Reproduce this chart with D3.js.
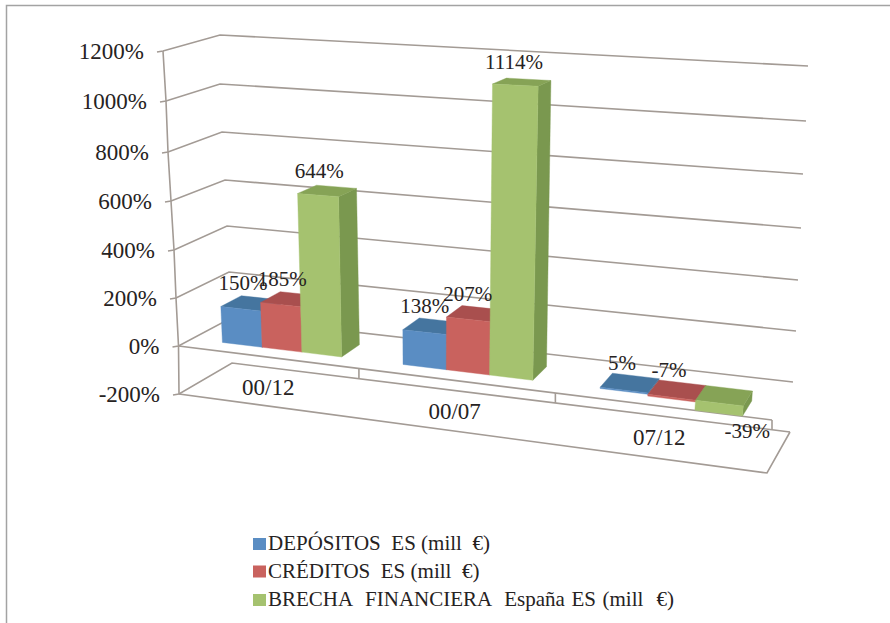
<!DOCTYPE html>
<html>
<head>
<meta charset="utf-8">
<script src="https://cdn.jsdelivr.net/npm/d3@7/dist/d3.min.js"></script>
<style>
  html, body { margin: 0; padding: 0; background: #fff; }
  svg { display: block; }
  text { font-family: "Liberation Serif", serif; fill: #262222; white-space: pre; }
</style>
</head>
<body>
<svg id="chart" width="890" height="623"></svg>
<script>
// Chart values
const categories = ["00/12", "00/07", "07/12"];
const seriesNames = [
  "DEPÓSITOS  ES (mill  €)",
  "CRÉDITOS  ES (mill  €)",
  "BRECHA  FINANCIERA  España ES (mill  €)"
];
const depositos = [150, 138, 5];
const creditos = [185, 207, -7];
const brecha = [644, 1114, -39];
const yTicks = [-200, 0, 200, 400, 600, 800, 1000, 1200];

// Face colours per series: front, top, side
const frontColors = ["#5a8dc3", "#c9625e", "#a5c26f"];
const topColors = ["#45759f", "#a94f4e", "#86a356"];
const sideColors = ["#3f6b94", "#96443f", "#7a984f"];

const svg = d3.select("#chart");

// The four vertical edges of the 3D box, each a value -> pixel scale
const edge = (xs, ys, dom = yTicks) => ({
  x: d3.scaleLinear().domain(dom).range(xs),
  y: d3.scaleLinear().domain(dom).range(ys)
});
const FL = edge([179, 178.5, 176, 174, 171, 168, 166, 163], [394, 346, 298, 250, 201, 152, 101, 51]);
const BL = edge([232, 231, 229, 227, 225, 222, 220, 220], [363, 318, 272, 226, 180, 132, 84, 35]);
const BR = edge([790, 793, 796, 798, 801, 803, 806, 808], [432, 382, 331, 280, 228, 174, 121, 66]);
const FR = edge([767, 772, 794], [473, 420, 78], [-200, 0, 1200]);

// Category position (with foreshortening) -> fraction along the box width
const widthScale = d3.scaleLinear().domain([0, 1, 2, 3]).range([0, 0.304, 0.635, 1]);
// Series position inside one category
const band = d3.scaleBand().domain(d3.range(seriesNames.length)).range([0.17, 0.84]);
const depthFront = 0.26, depthBack = 0.66;

const lerp = (a, b, t) => a + (b - a) * t;

// u: category units, d: depth 0..1, v: value in percent
function project(u, d, v) {
  const t = widthScale(u);
  const fx = lerp(FL.x(v), FR.x(v), t), fy = lerp(FL.y(v), FR.y(v), t);
  const bx = lerp(BL.x(v), BR.x(v), t), by = lerp(BL.y(v), BR.y(v), t);
  return [lerp(fx, bx, d), lerp(fy, by, d)];
}

const line = d3.line();
const gridColor = "#a39b95";

// Outer frame
svg.append("path")
  .attr("d", "M6.5,623V5.5H890")
  .attr("fill", "none").attr("stroke", "#a3a3a3").attr("stroke-width", 1.5);

const grid = svg.append("g")
  .attr("fill", "none").attr("stroke", gridColor).attr("stroke-width", 1.6);

// Wall gridlines with their outward tick
yTicks.forEach(v => {
  const a = [FL.x(v), FL.y(v)];
  grid.append("path").attr("d", line([[a[0] - 6, a[1] + 1], a, [BL.x(v), BL.y(v)], [BR.x(v), BR.y(v)]]));
});

// Vertical axis
grid.append("path").attr("d", line(yTicks.map(v => [FL.x(v), FL.y(v)])));

// Floor outline at the axis minimum
const vMin = yTicks[0];
grid.append("path").attr("d", line([
  [FL.x(vMin), FL.y(vMin)], [FR.x(vMin), FR.y(vMin)], [BR.x(vMin), BR.y(vMin)]
]));

// Front edge of the zero plane and the category separators
grid.append("path").attr("d", line([[FL.x(0), FL.y(0)], [FR.x(0), FR.y(0)]]));
d3.range(1, categories.length + 1).forEach(u => {
  const top = project(u, 0, 0);
  const s = (top[0] - BL.x(vMin)) / (BR.x(vMin) - BL.x(vMin));
  grid.append("path").attr("d", line([top, [top[0], lerp(BL.y(vMin), BR.y(vMin), s)]]));
});

// Bars: one series after another inside each category
const allSeries = [depositos, creditos, brecha];
const bars = svg.append("g");
categories.forEach((cat, c) => {
  allSeries.forEach((values, s) => {
    const v = values[c];
    const u0 = c + band(s), u1 = u0 + band.bandwidth();
    const hi = Math.max(v, 0), lo = Math.min(v, 0);
    const face = (pts, fill) => bars.append("path")
      .attr("d", line(pts) + "Z").attr("fill", fill)
      .attr("stroke", fill).attr("stroke-width", 0.4);
    face([project(u1, depthFront, lo), project(u1, depthBack, lo), project(u1, depthBack, hi), project(u1, depthFront, hi)], sideColors[s]);
    face([project(u0, depthFront, hi), project(u1, depthFront, hi), project(u1, depthBack, hi), project(u0, depthBack, hi)], topColors[s]);
    face([project(u0, depthFront, lo), project(u1, depthFront, lo), project(u1, depthFront, hi), project(u0, depthFront, hi)], frontColors[s]);
  });
});

// Axis labels
svg.append("g").selectAll("text").data(yTicks).join("text")
  .attr("x", v => FL.x(v) - 19)
  .attr("y", v => FL.y(v) + 7.5)
  .attr("text-anchor", "end")
  .attr("font-size", 23)
  .text(v => v + "%");

// Category labels lying on the floor, drifting right with the perspective
const categoryAnchor = i => project(i + 0.36 + 0.035 * i, 0.5, vMin);
svg.append("g").selectAll("text").data(categories).join("text")
  .attr("x", (d, i) => categoryAnchor(i)[0])
  .attr("y", (d, i) => categoryAnchor(i)[1] + 8)
  .attr("text-anchor", "middle")
  .attr("font-size", 23)
  .text(d => d);

// Value labels above each bar top; large negative values hang below the bar
categories.forEach((cat, c) => {
  allSeries.forEach((values, s) => {
    const v = values[c];
    const p = project(c + band(s) + band.bandwidth() / 2, (depthFront + depthBack) / 2, Math.max(v, 0));
    const below = v < -20;
    svg.append("text")
      .attr("x", p[0] + (below ? 23 : -8))
      .attr("y", p[1] + (below ? 42 : -13))
      .attr("text-anchor", "middle")
      .attr("font-size", 21)
      .text(v + "%");
  });
});

// Legend; the long entry runs slightly wider between its words
const legend = svg.append("g");
seriesNames.forEach((name, i) => {
  const y = [544, 571.5, 600][i];
  legend.append("rect").attr("x", 253).attr("y", y - 6).attr("width", 13).attr("height", 12).attr("fill", frontColors[i]);
  legend.append("text").attr("x", 268).attr("y", y + 6).attr("font-size", 21)
    .attr("word-spacing", i === 2 ? 1.3 : 0).text(name);
});
</script>
</body>
</html>
